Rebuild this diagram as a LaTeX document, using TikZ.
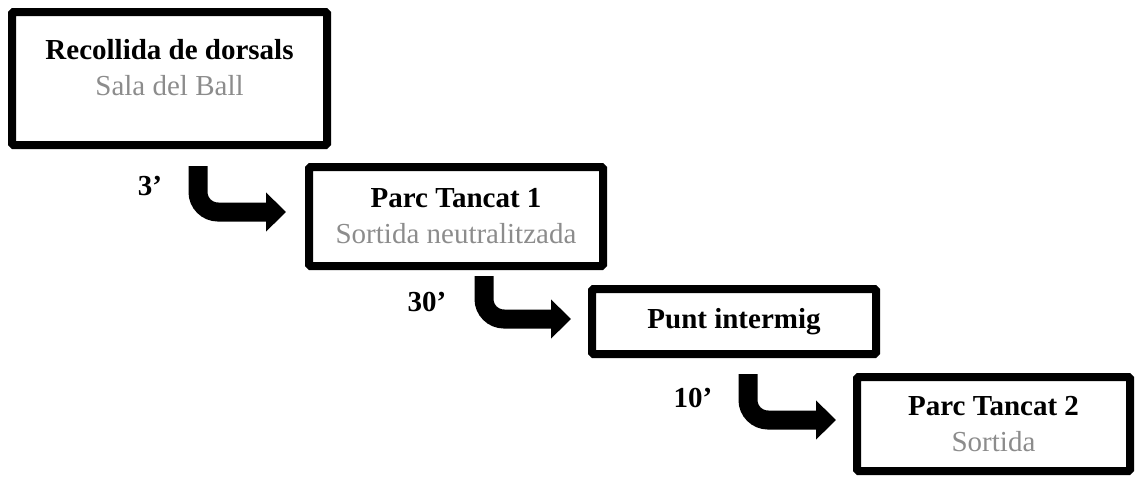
\documentclass[tikz,border=0pt]{standalone}
\usepackage{fontspec}
\setmainfont{Liberation Serif}
\usetikzlibrary{arrows.meta}

\definecolor{subgray}{gray}{0.55}
\newcommand{\subline}[1]{{\mdseries\color{subgray}#1}}

\begin{document}
\begin{tikzpicture}[x=1pt,y=-1pt,
  stage/.style={draw,line width=8pt,rounded corners=1.5pt,align=center,inner sep=0pt,
    font=\fontsize{29}{36}\selectfont\bfseries},
  bent/.style={line width=19pt,rounded corners=20pt,-{Triangle[length=20pt,width=38pt]}},
  time/.style={font=\fontsize{29}{36}\selectfont\bfseries}]

  \useasboundingbox (0,0) rectangle (1138,477);

  % the four stages
  \node[stage,minimum width=315pt,minimum height=133pt] (rec) at (169.5,78.5) {};
  \node[font=\fontsize{29}{36}\selectfont\bfseries,align=center,anchor=north] (rectext) at (169.5,36)
    {Recollida de dorsals\\\subline{Sala del Ball}};
  \node[stage,minimum width=294pt,minimum height=99pt] (parc1) at (456,216.5)
    {Parc Tancat 1\\\subline{Sortida neutralitzada}};
  \node[stage,minimum width=284pt,minimum height=65pt] (punt) at (734,321.5) {Punt intermig};
  \node[stage,minimum width=273pt,minimum height=94pt] (parc2) at (993.5,424)
    {Parc Tancat 2\\\subline{Sortida}};

  % times
  \node[time] (t1) at (150,186) {3’};
  \node[time] (t2) at (427,302) {30’};
  \node[time] (t3) at (693,398) {10’};

  \draw[bent] ([xshift=28.5pt,yshift=-17pt]rec.south) |- ([xshift=-19pt,yshift=4.5pt]parc1.west);
  \draw[bent] ([xshift=28pt,yshift=-6pt]parc1.south) |- ([xshift=-17pt,yshift=2.5pt]punt.west);
  \draw[bent] ([xshift=14pt,yshift=-16pt]punt.south) |- ([xshift=-17pt,yshift=4pt]parc2.west);
\end{tikzpicture}
\end{document}
